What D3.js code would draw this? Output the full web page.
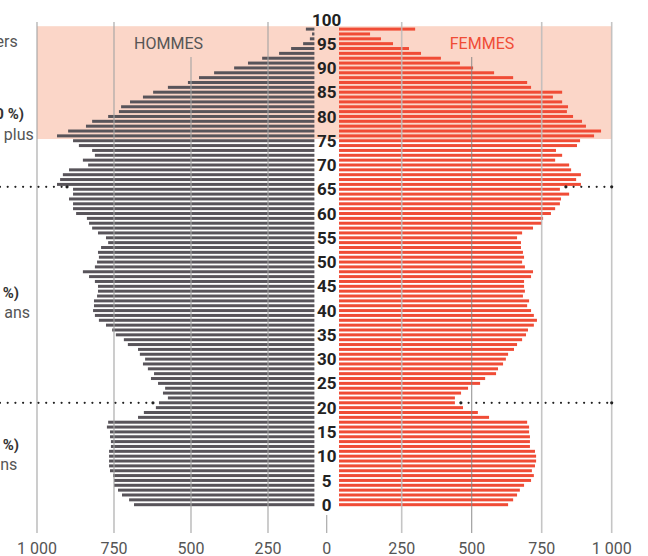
<!DOCTYPE html>
<html>
<head>
<meta charset="utf-8">
<script src="https://cdn.jsdelivr.net/npm/d3@7"></script>
<style>
  body { margin: 0; background: #fff; }
  svg { display: block; font-family: Roboto, "Noto Sans", sans-serif; }
</style>
</head>
<body>
<svg id="chart" width="648" height="556"></svg>
<script>
// ===== Données (âge 0 à 98, effectifs) =====
const hommes = [
  685, 701, 724, 737, 750, 750, 753, 763, 766, 766,
  766, 766, 760, 760, 763, 763, 773, 769, 672, 653,
  614, 604, 575, 591, 584, 607, 630, 620, 640, 656,
  649, 666, 672, 705, 718, 744, 756, 776, 799, 812,
  818, 815, 815, 805, 802, 802, 812, 831, 851, 812,
  805, 799, 802, 792, 769, 776, 802, 821, 831, 838,
  873, 883, 883, 896, 883, 883, 935, 925, 916, 896,
  834, 851, 812, 821, 864, 883, 935, 899, 841, 821,
  769, 734, 727, 698, 656, 623, 575, 510, 474, 425,
  360, 315, 269, 214, 175, 136, 114, 107, 127
];
const femmes = [
  630, 648, 662, 672, 687, 712, 722, 715, 726, 730,
  730, 726, 708, 708, 708, 705, 705, 698, 562, 522,
  469, 440, 440, 462, 487, 530, 548, 587, 594, 612,
  622, 630, 651, 662, 680, 694, 701, 722, 733, 722,
  712, 698, 705, 683, 690, 687, 687, 712, 719, 690,
  680, 687, 683, 676, 676, 662, 680, 719, 751, 755,
  783, 798, 815, 819, 848, 815, 890, 873, 890, 855,
  848, 798, 823, 801, 876, 887, 937, 962, 908, 894,
  862, 840, 844, 823, 790, 823, 712, 698, 648, 580,
  505, 458, 390, 319, 276, 219, 176, 137, 298
];
const ageTicks = [0, 5, 10, 15, 20, 25, 30, 35, 40, 45, 50, 55, 60, 65, 70, 75, 80, 85, 90, 95, 100];
const valueTicks = [250, 500, 750, 1000];

// tranches annotées (texte qui déborde à gauche)
const groupes = [
  { titre: "Seniors (10,0 %)", sous: "75 ans et plus", yTitre: 119, ySous: 139.5, xTitre: 24, xSous: 33.7 },
  { titre: "Adultes (57 %)", sous: "de 21 à 65 ans", yTitre: 298, ySous: 318, xTitre: 19, xSous: 30 },
  { titre: "Jeunes (24 %)", sous: "moins de 21 ans", yTitre: 450, ySous: 470, xTitre: 19, xSous: 17.3 }
];
const seuils = [65.5, 21];      // lignes pointillées
const bandeSeniors = [75.35, 98.6];

// ===== Échelles =====
const svg = d3.select("#chart");
const xL = d3.scaleLinear().domain([0, 1000]).range([345, 37]);
const xR = d3.scaleLinear().domain([0, 1000]).range([331.7, 611.7]);
const y = d3.scaleLinear().domain([0, 100]).range([504.7, 19.4]);
const bordG = 314.4, bordD = 339, centre = 326.7;
const barH = 3;

const fr = d3.formatLocale({ decimal: ",", thousands: "\u00a0", grouping: [3], currency: ["", " €"] });
const fmt = fr.format(",");

const cGris = "#58545a", cRouge = "#f04c36";

// bande 75 ans et plus
svg.append("rect")
  .attr("x", xL(1000)).attr("width", xR(1000) - xL(1000))
  .attr("y", y(bandeSeniors[1])).attr("height", y(bandeSeniors[0]) - y(bandeSeniors[1]))
  .attr("fill", "#fbd6c8");

// barres hommes
svg.append("g").selectAll("rect")
  .data(hommes)
  .join("rect")
  .attr("x", d => Math.min(xL(d), bordG))
  .attr("width", d => Math.max(0, bordG - xL(d)))
  .attr("y", (d, i) => y(i) - barH / 2)
  .attr("height", barH)
  .attr("fill", cGris);

// barres femmes
svg.append("g").selectAll("rect")
  .data(femmes)
  .join("rect")
  .attr("x", bordD)
  .attr("width", d => Math.max(0, xR(d) - bordD))
  .attr("y", (d, i) => y(i) - barH / 2)
  .attr("height", barH)
  .attr("fill", cRouge);

// grille (par-dessus les barres)
const grid = svg.append("g").attr("stroke-opacity", 0.85);
valueTicks.forEach(v => {
  grid.append("line")
    .attr("x1", xL(v)).attr("x2", xL(v))
    .attr("y1", v === 500 ? 57 : 22).attr("y2", 533)
    .attr("stroke", "#a3a3a3").attr("stroke-width", 1.3);
  grid.append("line")
    .attr("x1", xR(v)).attr("x2", xR(v))
    .attr("y1", v === 500 ? 57 : 22).attr("y2", 533)
    .attr("stroke", v === 500 ? "#858585" : "#bbbbbb").attr("stroke-width", v === 500 ? 1.1 : 1.6);
});
svg.append("line")
  .attr("x1", centre).attr("x2", centre).attr("y1", 515).attr("y2", 533)
  .attr("stroke", "#aaa").attr("stroke-width", 1.2);

// étiquettes de l'axe des valeurs
const axeTxt = svg.append("g")
  .attr("font-size", 16).attr("fill", "#555").attr("text-anchor", "middle");
valueTicks.forEach(v => {
  axeTxt.append("text").attr("x", xL(v)).attr("y", 553.5).text(fmt(v));
  axeTxt.append("text").attr("x", xR(v)).attr("y", 553.5).text(fmt(v));
});
axeTxt.append("text").attr("x", centre).attr("y", 553.5).text("0");

// âges au centre
svg.append("g").selectAll("text")
  .data(ageTicks)
  .join("text")
  .attr("x", centre)
  .attr("y", d => y(d))
  .attr("dy", "0.36em")
  .attr("text-anchor", "middle")
  .attr("font-size", 17)
  .attr("font-weight", 700)
  .attr("fill", "#222")
  .text(d => d);

// lignes pointillées
seuils.forEach(s => {
  const a = Math.floor(s);
  const yy = y(s);
  const segs = [[0, xL(hommes[a]) - 6], [xR(femmes[a]) + 6, xR(1000)]];
  segs.forEach(([x1, x2]) => {
    svg.append("line")
      .attr("x1", x1).attr("x2", x2).attr("y1", yy).attr("y2", yy)
      .attr("stroke", "#222").attr("stroke-width", 2.2)
      .attr("stroke-linecap", "round").attr("stroke-dasharray", "0 7.7");
    [x1, x2].filter(x => x > 1).forEach(x => {
      svg.append("circle").attr("cx", x).attr("cy", yy).attr("r", 1.6).attr("fill", "#222");
    });
  });
});

// titres HOMMES / FEMMES
svg.append("text").attr("x", 168.6).attr("y", 48.5).attr("text-anchor", "middle")
  .attr("font-size", 16).attr("fill", "#555").text("HOMMES");
svg.append("text").attr("x", 482).attr("y", 48.5).attr("text-anchor", "middle")
  .attr("font-size", 16).attr("fill", cRouge).text("FEMMES");

// annotations à gauche (coupées par le bord)
svg.append("text").attr("x", 17.7).attr("y", 46.5).attr("text-anchor", "end")
  .attr("font-size", 16).attr("fill", "#555").text("Population, en milliers");
groupes.forEach(g => {
  svg.append("text").attr("x", g.xTitre).attr("y", g.yTitre).attr("text-anchor", "end")
    .attr("font-size", 15).attr("font-weight", 700).attr("fill", "#333").text(g.titre);
  svg.append("text").attr("x", g.xSous).attr("y", g.ySous).attr("text-anchor", "end")
    .attr("font-size", 16).attr("fill", "#555").text(g.sous);
});
</script>
</body>
</html>
